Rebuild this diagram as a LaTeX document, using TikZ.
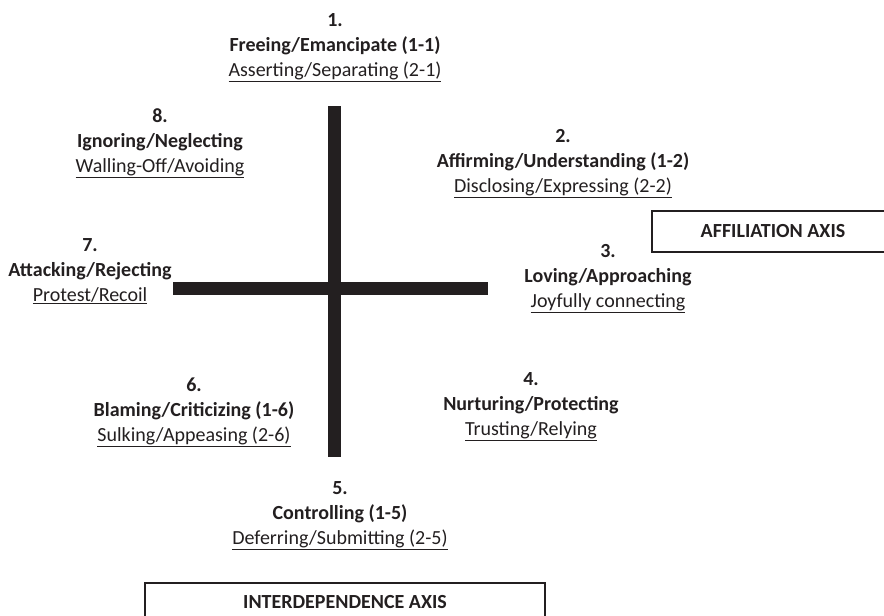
\documentclass[tikz,border=0pt]{standalone}
\usepackage{fontspec}
\setmainfont{Carlito}
\definecolor{ink}{HTML}{231F20}
\begin{document}
\begin{tikzpicture}[x=1pt,y=-1pt]
\tikzstyle{quad} = [align=center, text=ink, inner sep=0pt, font=\fontsize{20}{25}\selectfont]
\tikzstyle{axisbox} = [rectangle, draw=ink, line width=1.2pt, text=ink, inner sep=0pt, font=\fontsize{20}{24}\selectfont\bfseries]
\tikzstyle{axisbar} = [draw=ink, line width=13pt]
%
\useasboundingbox (0,0) rectangle (884,616);
%
\coordinate (top)    at (334,106);
\coordinate (bottom) at (334,457);
\coordinate (left)   at (173,288);
\coordinate (right)  at (488,288);
\draw [axisbar] (top) -- (bottom);
\draw [axisbar] (left) -- (right);
%
\node (1) [quad] at (335,48)    {\textbf{1.}\\ \textbf{Freeing/Emancipate (1-1)}\\ \underline{Asserting/Separating (2-1)}};
\node (2) [quad] at (563,164)   {\textbf{2.}\\ \textbf{Affirming/Understanding (1-2)}\\ \underline{Disclosing/Expressing (2-2)}};
\node (3) [quad] at (608,279)   {\textbf{3.}\\ \textbf{Loving/Approaching}\\ \underline{Joyfully connecting}};
\node (4) [quad] at (531,407)   {\textbf{4.}\\ \textbf{Nurturing/Protecting}\\ \underline{Trusting/Relying}};
\node (5) [quad] at (340,515.5) {\textbf{5.}\\ \textbf{Controlling (1-5)}\\ \underline{Deferring/Submitting (2-5)}};
\node (6) [quad] at (194,412)   {\textbf{6.}\\ \textbf{Blaming/Criticizing (1-6)}\\ \underline{Sulking/Appeasing (2-6)}};
\node (7) [quad] at (90,271)    {\textbf{7.}\\ \textbf{Attacking/Rejecting}\\ \underline{Protest/Recoil}};
\node (8) [quad] at (160,143)   {\textbf{8.}\\ \textbf{Ignoring/Neglecting}\\ \underline{Walling-Off/Avoiding}};
%
\node (aff) [axisbox, minimum width=242pt, minimum height=41pt] at (773,231.5) {AFFILIATION AXIS};
\node (int) [axisbox, minimum width=400pt, minimum height=38pt] at (345,602)   {INTERDEPENDENCE AXIS};
\end{tikzpicture}
\end{document}
